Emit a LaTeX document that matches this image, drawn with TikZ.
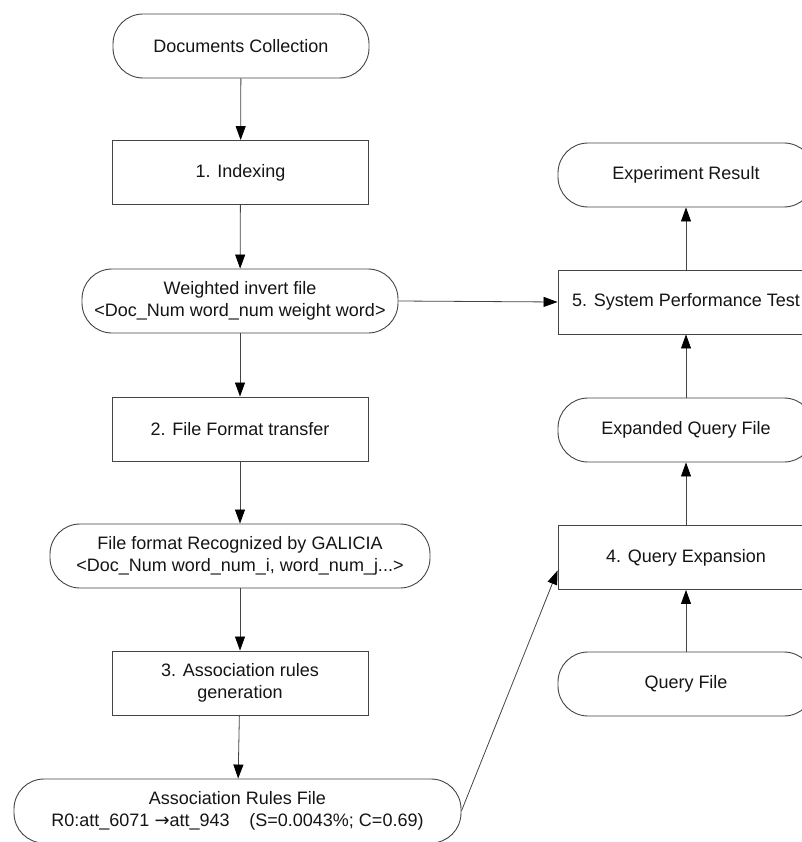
\documentclass[tikz,border=0pt]{standalone}
\usepackage{fontspec}
\setmainfont{Liberation Sans}
\newfontfamily\arrowfont{DejaVu Sans}
\usetikzlibrary{arrows.meta}
\definecolor{linegray}{HTML}{444444}
\definecolor{txt}{HTML}{151515}
\tikzset{
  base/.style={draw=linegray, line width=0.9pt, fill=white, text=txt, align=center,
    inner sep=0pt, font=\fontsize{18}{22}\selectfont},
  procbox/.style={base, minimum width=256pt, minimum height=64pt},
  termbox/.style={base, rounded corners=30pt, minimum height=64pt},
  flow/.style={draw=linegray, line width=0.8pt, -{Triangle[length=14pt,width=10pt,color=black,fill=black]}}
}
\begin{document}
\begin{tikzpicture}[x=1pt,y=-1pt]
\useasboundingbox (0,0) rectangle (801,842);
% left column
\node[termbox, minimum width=256pt] (dc) at (241,46) {Documents Collection};
\node[procbox] (idx) at (240.5,172.5) {1. Indexing};
\node[termbox, minimum width=316pt] (wif) at (240,301) {Weighted invert file\\<Doc\_Num word\_num weight word>};
\node[procbox] (fft) at (240,429) {2. File Format transfer};
\node[termbox, minimum width=380pt] (gal) at (240,556) {File format Recognized by GALICIA\\<Doc\_Num word\_num\_i, word\_num\_j...>};
\node[procbox] (arg) at (240,683) {3. Association rules\\generation};
\node[termbox, minimum width=447pt] (arf) at (237.5,811) {Association Rules File\\R0:att\_6071 {\arrowfont →}att\_943\hspace{1.1em}(S=0.0043\%; C=0.69)};
% right column
\node[termbox, minimum width=256pt] (er) at (686,175) {Experiment Result};
\node[procbox] (spt) at (686,302) {5. System Performance Test};
\node[termbox, minimum width=256pt] (eqf) at (686,430) {Expanded Query File};
\node[procbox] (qe) at (686,557.5) {4. Query Expansion};
\node[termbox, minimum width=256pt] (qf) at (686,684) {Query File};
% connectors
\draw[flow] (dc) -- (idx);
\draw[flow] (idx) -- (wif);
\draw[flow] (wif) -- (fft);
\draw[flow] (fft) -- (gal);
\draw[flow] (gal) -- (arg);
\draw[flow] (arg) -- (arf);
\draw[flow] (wif.east) -- (spt.west);
\draw[flow] (arf.east) -- ([yshift=-13pt]qe.west);
\draw[flow] (qf) -- (qe);
\draw[flow] (qe) -- (eqf);
\draw[flow] (eqf) -- (spt);
\draw[flow] (spt) -- (er);
\end{tikzpicture}
\end{document}
